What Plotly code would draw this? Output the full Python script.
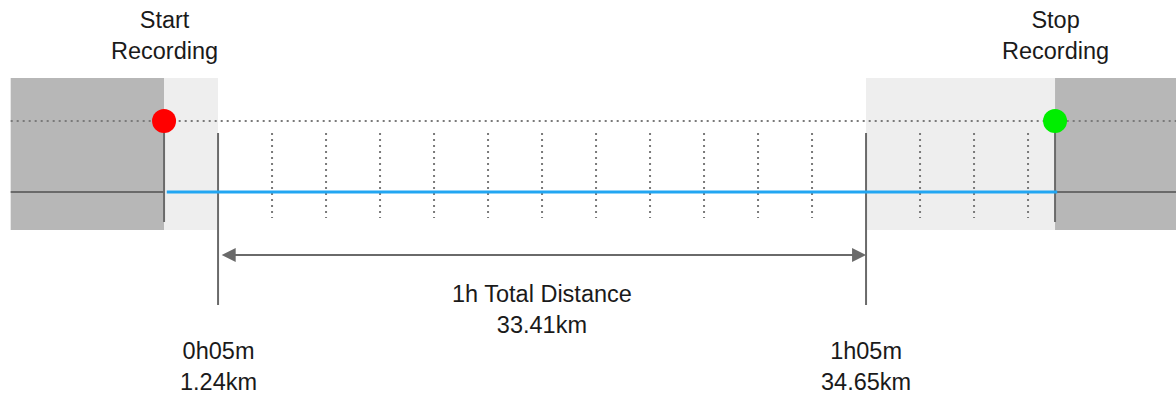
import plotly.graph_objects as go

# time axis in minutes
record_start = 0
record_stop = 82.5
window_start = 5
window_end = 65
view_range = [-15.19, 93.7]
left_edge = -14.2
grid_minutes = [10, 15, 20, 25, 30, 35, 40, 45, 50, 55, 60, 70, 75, 80]

top_labels = ["Start<br>Recording", "Stop<br>Recording"]
bottom_labels = ["0h05m<br>1.24km", "1h05m<br>34.65km"]
total_label = "1h Total Distance<br>33.41km"

DARK = "#b7b7b7"
LIGHT = "#eeeeee"
LINE = "#6a6a6a"
DOT = "#7a7a7a"
BLUE = "#22a6f2"

fig = go.Figure()

shapes = []
# shaded zones (vertical layout units are 0..394 top-down)
shapes.append(dict(type="rect", x0=left_edge, x1=record_start, y0=78, y1=230,
                   fillcolor=DARK, line_width=0, layer="below"))
shapes.append(dict(type="rect", x0=record_start, x1=window_start, y0=78, y1=230,
                   fillcolor=LIGHT, line_width=0, layer="below"))
shapes.append(dict(type="rect", x0=window_end, x1=record_stop, y0=78, y1=230,
                   fillcolor=LIGHT, line_width=0, layer="below"))
shapes.append(dict(type="rect", x0=record_stop, x1=view_range[1] + 1, y0=78, y1=230,
                   fillcolor=DARK, line_width=0, layer="below"))

# dotted lines
dotted = dict(color=DOT, width=2, dash="2px,4px")
shapes.append(dict(type="line", x0=left_edge, x1=view_range[1] + 1, y0=121, y1=121,
                   line=dotted, layer="below"))
for m in grid_minutes:
    shapes.append(dict(type="line", x0=m, x1=m, y0=133, y1=218,
                       line=dotted, layer="below"))

# baseline outside recording
shapes.append(dict(type="line", x0=left_edge, x1=record_start, y0=192, y1=192,
                   line=dict(color=LINE, width=2), layer="below"))
shapes.append(dict(type="line", x0=record_stop, x1=view_range[1] + 1, y0=192, y1=192,
                   line=dict(color=LINE, width=2), layer="below"))

# vertical markers
for m in [record_start, record_stop]:
    shapes.append(dict(type="line", x0=m, x1=m, y0=121, y1=222,
                       line=dict(color=LINE, width=2), layer="below"))
for m in [window_start, window_end]:
    shapes.append(dict(type="line", x0=m, x1=m, y0=133, y1=305,
                       line=dict(color=LINE, width=2), layer="below"))

# recorded track
fig.add_trace(go.Scatter(x=[record_start + 0.25, record_stop + 0.2], y=[192, 192],
                         mode="lines", line=dict(color=BLUE, width=3), hoverinfo="skip"))

fig.add_trace(go.Scatter(x=[record_start, record_stop], y=[121, 121], mode="markers",
                         marker=dict(size=24, color=["#ff0000", "#00ee00"], line_width=0),
                         hoverinfo="skip"))

font = dict(family="Liberation Sans, Arial, sans-serif", size=23.5, color="#1a1a1a")
annotations = []
for x, t in zip([record_start, record_stop], top_labels):
    annotations.append(dict(x=x, y=35, text=t, showarrow=False, font=font,
                            xanchor="center", yanchor="middle"))
for x, t in zip([window_start, window_end], bottom_labels):
    annotations.append(dict(x=x, y=366, text=t, showarrow=False, font=font,
                            xanchor="center", yanchor="middle", borderpad=0))
annotations.append(dict(x=(window_start + window_end) / 2, y=309, text=total_label,
                        showarrow=False, font=font, xanchor="center", yanchor="middle"))
annotations.append(dict(x=window_end, y=255, ax=window_start + 0.2, ay=255,
                        axref="x", ayref="y", xref="x", yref="y", text="",
                        showarrow=True, arrowside="end+start", arrowhead=2,
                        arrowsize=1.4, arrowwidth=2, arrowcolor=LINE, standoff=0,
                        startstandoff=0))

fig.update_layout(
    width=1176, height=394,
    margin=dict(l=0, r=0, t=0, b=0),
    paper_bgcolor="white", plot_bgcolor="white",
    showlegend=False,
    shapes=shapes,
    annotations=annotations,
    xaxis=dict(range=view_range, visible=False, fixedrange=True),
    yaxis=dict(range=[394, 0], visible=False, fixedrange=True),
)

fig.write_html("out.html", config={"displayModeBar": False},
               post_script="document.body.style.margin='0';document.body.style.overflow='hidden';")
